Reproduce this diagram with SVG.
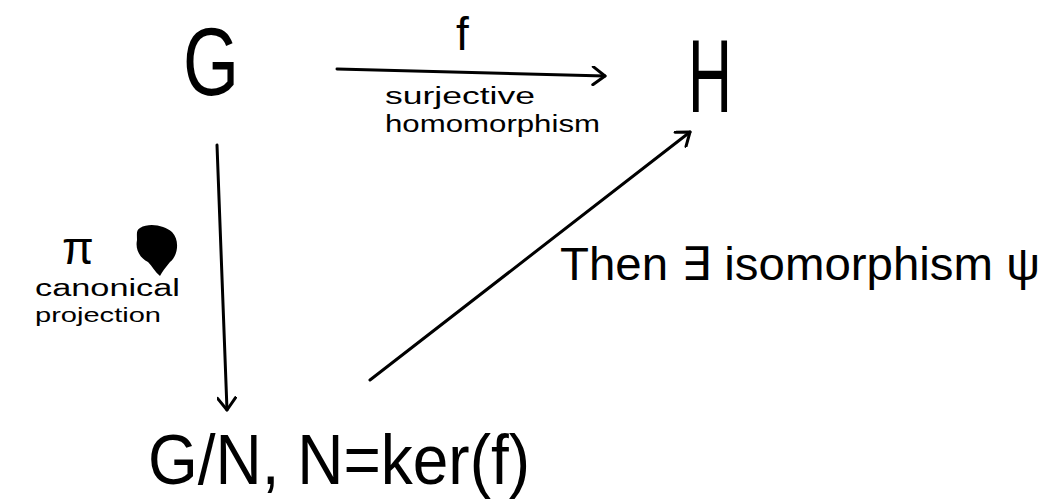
<svg xmlns="http://www.w3.org/2000/svg" width="1059" height="501" viewBox="0 0 1059 501">
<style>
.t{font-family:"Liberation Sans","DejaVu Sans",sans-serif;fill:#000}
.c{fill:none;stroke:#000;stroke-width:3;stroke-linecap:round}
</style>
<defs>
<marker id="ah" markerWidth="20" markerHeight="20" refX="14" refY="10" orient="auto" markerUnits="userSpaceOnUse">
<path d="M2,1 L14,10 L2,19" fill="none" stroke="#000" stroke-width="3" stroke-linecap="round" stroke-linejoin="round"/>
</marker>
</defs>
<rect width="1059" height="501" fill="#fff"/>
<g id="connectors">
<path class="c" d="M337,69 L605,76" marker-end="url(#ah)"/>
<path class="c" d="M217,145 L227,410" marker-end="url(#ah)"/>
<path class="c" d="M370,380 L690,132" marker-end="url(#ah)"/>
</g>
<g id="node-G"><text class="t" x="183" y="95" font-size="96" textLength="56" lengthAdjust="spacingAndGlyphs">G</text></g>
<g id="node-H"><text class="t" x="688" y="112" font-size="104" textLength="44" lengthAdjust="spacingAndGlyphs">H</text></g>
<g id="node-GN"><text class="t" x="148" y="484" font-size="70" textLength="382" lengthAdjust="spacingAndGlyphs">G/N, N=ker(f)</text></g>
<g id="label-f">
<text class="t" x="456" y="50" font-size="46">f</text>
<text class="t" x="385" y="104" font-size="23" textLength="150" lengthAdjust="spacingAndGlyphs">surjective</text>
<text class="t" x="385" y="132" font-size="23" textLength="215" lengthAdjust="spacingAndGlyphs">homomorphism</text>
</g>
<g id="label-pi">
<text class="t" x="62" y="264" font-size="46">π</text>
<path d="M140,228 C150,222 165,226 172,232 C180,240 178,256 170,262 C165,268 162,272 160,276 C155,272 152,266 148,262 C140,258 135,250 137,240 C137,234 136,230 140,228 Z" fill="#000"/>
<text class="t" x="35" y="296" font-size="23" textLength="145" lengthAdjust="spacingAndGlyphs">canonical</text>
<text class="t" x="35" y="322" font-size="21" textLength="126" lengthAdjust="spacingAndGlyphs">projection</text>
</g>
<g id="label-psi">
<text class="t" x="560" y="280" font-size="46" textLength="480" lengthAdjust="spacingAndGlyphs">Then ∃ isomorphism ψ</text>
</g>
</svg>
